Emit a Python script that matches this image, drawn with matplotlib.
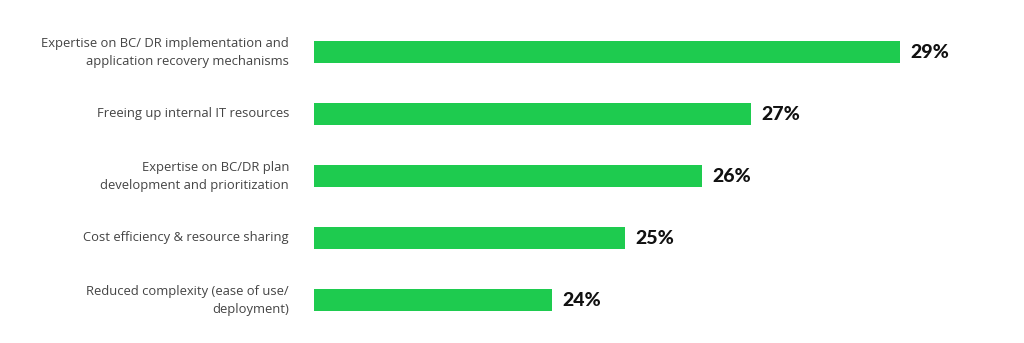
import matplotlib
matplotlib.use("Agg")
import matplotlib.pyplot as plt

plt.rcParams["font.family"] = ["Lato", "DejaVu Sans"]

categories = [
    "Expertise on BC/ DR implementation and\napplication recovery mechanisms",
    "Freeing up internal IT resources",
    "Expertise on BC/DR plan\ndevelopment and prioritization",
    "Cost efficiency & resource sharing",
    "Reduced complexity (ease of use/\ndeployment)",
]
# bar lengths as drawn (estimated), shown as rounded percentages
values = [28.97, 26.84, 26.14, 25.04, 24.0]
value_labels = ["29%", "27%", "26%", "25%", "24%"]

W, H = 1024, 343
fig = plt.figure(figsize=(W / 100, H / 100), dpi=100)
fig.patch.set_facecolor("white")
ax = fig.add_axes([314 / W, 12 / H, 686 / W, 310 / H])

x0 = 20.6
ypos = list(range(len(categories)))
ax.barh(ypos, [v - x0 for v in values], left=x0, height=0.355,
        color="#1ecb4f", edgecolor="none")

ax.set_xlim(x0, x0 + 686 / 70)
ax.set_ylim(4.5, -0.5)

for y, v, lab in zip(ypos, values, value_labels):
    ax.text(v + 0.15, y, lab, va="center", ha="left",
            fontsize=14, fontweight="black", color="#111111")

for y, cat in zip(ypos, categories):
    ax.text(-25 / 686, y, cat, transform=ax.get_yaxis_transform(),
            ha="right", va="center", fontsize=9.4, color="#444444",
            linespacing=1.5, family=["Open Sans", "DejaVu Sans"])

ax.set_xticks([])
ax.set_yticks([])
for s in ax.spines.values():
    s.set_visible(False)

fig.savefig("out.png", dpi=100)
